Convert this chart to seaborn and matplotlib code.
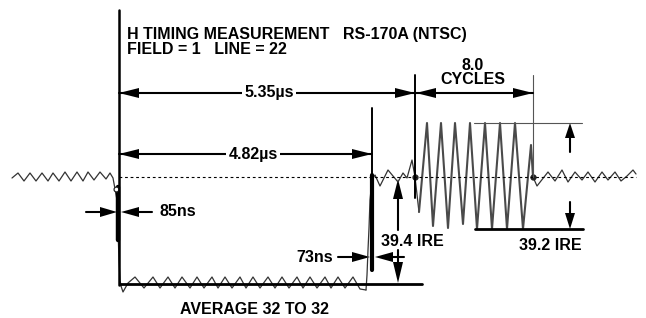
import matplotlib
matplotlib.use("Agg")
import matplotlib.pyplot as plt
import seaborn as sns

# --- waveform trace (pixel units, y down) ---
left_x = [12, 18, 24, 30, 36, 42, 48, 53, 59, 65, 71, 77, 83, 88, 94, 100, 106, 110, 113, 115, 117, 118, 119, 120, 121]
left_y = [178, 173, 181, 173, 181, 173, 181, 173, 181, 172, 181, 172, 181, 172, 180, 172, 179, 173, 178, 189, 200, 230, 260, 280, 286]

sync_x = [121, 123, 128, 135, 144, 153, 160, 168, 175, 182, 190, 197, 204, 212, 218, 225, 232, 240, 246, 253, 260,
          268, 275, 282, 289, 297, 303, 310, 317, 325, 331, 338, 345, 353, 360, 366]
sync_y = [286, 292, 283, 277, 288, 277, 288, 277, 288, 277, 288, 277, 288, 277, 288, 277, 288, 277, 288, 277, 288,
          277, 288, 277, 288, 277, 288, 277, 288, 277, 288, 277, 288, 277, 289, 290]

rise_x = [366, 367, 368, 369, 370, 372, 375, 380, 388, 398, 403, 407, 412, 415, 419]
rise_y = [290, 275, 250, 228, 200, 180, 175, 186, 170, 182, 173, 178, 160, 177, 212]

burst_x = [419, 427, 433, 441, 448, 455, 463, 470, 477, 485, 492, 500, 507, 515, 523, 531, 533]
burst_y = [212, 123, 226, 123, 228, 123, 224, 123, 229, 123, 229, 123, 229, 123, 229, 145, 177]

tail_x = [533, 537, 548, 555, 562, 568, 575, 582, 588, 595, 602, 608, 615, 621, 627, 633, 636]
tail_y = [177, 186, 172, 181, 170, 182, 172, 180, 172, 182, 172, 180, 172, 181, 176, 170, 174]

# measured edges (thick overlaid traces)
fall_edge_x = [118, 118]
fall_edge_y = [187, 240]
rise_edge_x = [372, 372]
rise_edge_y = [175, 270]

# cursor dots
dot_x = [415, 533]
dot_y = [177, 177]

sns.set_style("white")
plt.rcParams['font.family'] = ['Liberation Sans', 'DejaVu Sans']

fig = plt.figure(figsize=(6.46, 3.18), dpi=100)
ax = fig.add_axes([0, 0, 1, 1])
ax.set_xlim(0, 646)
ax.set_ylim(318, 0)
ax.axis('off')

# --- trace ---
for xs, ys in [(left_x, left_y), (sync_x, sync_y), (rise_x, rise_y), (tail_x, tail_y)]:
    sns.lineplot(x=xs, y=ys, sort=False, estimator=None, color='#333333', lw=0.9, ax=ax)
sns.lineplot(x=burst_x, y=burst_y, sort=False, estimator=None, color='#4a4a4a', lw=1.5, ax=ax)
sns.lineplot(x=fall_edge_x, y=fall_edge_y, sort=False, estimator=None, color='black', lw=3.2, ax=ax)
sns.lineplot(x=rise_edge_x, y=rise_edge_y, sort=False, estimator=None, color='black', lw=3.0, ax=ax)
ax.plot(dot_x, dot_y, 'o', ms=3.5, color='#222222')
ax.plot([116], [189], 'o', ms=3.5, mfc='white', mec='#222222', mew=0.9)

# --- reference lines ---
ax.plot([119, 636], [177, 177], color='black', lw=0.8, ls=(0, (2.5, 2.5)))
ax.plot([119, 119], [10, 285], color='black', lw=1.8)
ax.plot([372, 372], [108, 270], color='black', lw=1.4)
ax.plot([415, 415], [75, 198], color='black', lw=1.4)
ax.plot([533, 533], [75, 177], color='#555555', lw=0.8)
ax.plot([120, 422], [284, 284], color='black', lw=2.0)
ax.plot([474, 582], [123, 123], color='#555555', lw=0.8)
ax.plot([475, 583], [229, 229], color='black', lw=2.0)


def head(tx, ty, dx, dy, length=20, half=5):
    bx, by = tx - dx * length, ty - dy * length
    px, py = -dy, dx
    ax.fill([tx, bx + px * half, bx - px * half], [ty, by + py * half, by - py * half],
            color='black', lw=0)


# time arrows
ax.plot([119, 415], [93, 93], color='black', lw=1.5)
head(119, 93, -1, 0)
head(415, 93, 1, 0)
ax.plot([415, 533], [93, 93], color='black', lw=1.5)
head(416, 93, -1, 0)
head(533, 93, 1, 0)
ax.plot([119, 372], [154, 154], color='black', lw=1.5)
head(119, 154, -1, 0)
head(372, 154, 1, 0)

# burst amplitude arrows
ax.plot([570, 570], [138, 152], color='black', lw=1.5)
head(570, 123, 0, -1, 15, 5)
ax.plot([570, 570], [202, 213], color='black', lw=1.5)
head(570, 229, 0, 1, 16, 5)

# sync amplitude arrows
ax.plot([398, 398], [199, 230], color='black', lw=1.5)
head(398, 179, 0, -1, 20, 5)
ax.plot([398, 398], [250, 262], color='black', lw=1.5)
head(398, 283, 0, 1, 21, 5)

# 73ns
ax.plot([338, 352], [257, 257], color='black', lw=1.5)
head(370, 257, 1, 0, 18, 5)
ax.plot([393, 404], [257, 257], color='black', lw=1.5)
head(375, 257, -1, 0, 18, 5)

# 85ns
ax.plot([86, 100], [212, 212], color='black', lw=1.5)
head(117, 212, 1, 0, 17, 5)
ax.plot([139, 152], [212, 212], color='black', lw=1.5)
head(121, 212, -1, 0, 18, 5)

# --- text ---
tk = dict(fontsize=11.5, fontweight='bold', color='black')
ax.text(127, 34, "H TIMING MEASUREMENT   RS-170A (NTSC)", ha='left', va='center', **tk)
ax.text(127, 49, "FIELD = 1   LINE = 22", ha='left', va='center', **tk)
wb = dict(facecolor='white', edgecolor='none', pad=1.5)
ax.text(269, 93, "5.35µs", ha='center', va='center', bbox=wb, **tk)
ax.text(253, 154, "4.82µs", ha='center', va='center', bbox=wb, **tk)
ax.text(473, 65, "8.0", ha='center', va='center', **tk)
ax.text(473, 80, "CYCLES", ha='center', va='center', **tk)
ax.text(159, 212, "85ns", ha='left', va='center', **tk)
ax.text(333, 257, "73ns", ha='right', va='center', **tk)
ax.text(412, 242, "39.4 IRE", ha='center', va='center', **tk)
ax.text(550, 245, "39.2 IRE", ha='center', va='center', **tk)
ax.text(254, 309, "AVERAGE 32 TO 32", ha='center', va='center', **tk)

fig.savefig("out.png", dpi=100)
